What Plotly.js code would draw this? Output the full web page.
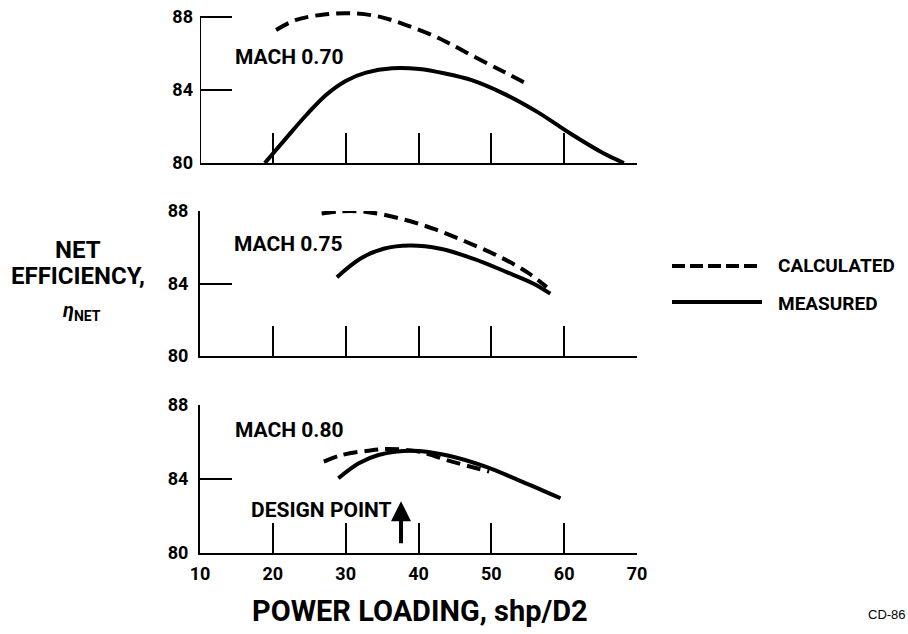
<!DOCTYPE html>
<html><head><meta charset="utf-8">
<script src="https://cdn.plot.ly/plotly-3.0.1.min.js"></script>
<style>html,body{margin:0;padding:0;background:#fff}#c{width:908px;height:634px}</style>
</head><body><div id="c"></div>
<script>
// Mach 0.70
const m70CalcX = [20.45, 23.2, 27.3, 31.0, 34.6, 38.3, 41.9, 44.2, 47.2, 51.7, 55.2];
const m70CalcY = [87.29, 87.84, 88.15, 88.2, 88.02, 87.56, 87.0, 86.56, 85.92, 85.0, 84.27];
const m70MeasX = [18.9, 21.8, 24.6, 27.3, 30.0, 32.8, 36.4, 40.1, 43.7, 47.2, 51.7, 56.3, 60.9, 65.4, 68.2];
const m70MeasY = [80.0, 81.35, 82.63, 83.73, 84.5, 84.95, 85.19, 85.15, 84.9, 84.55, 83.8, 82.8, 81.6, 80.53, 80.0];
// Mach 0.75
const m75CalcX = [26.7, 29.2, 32.9, 37.5, 42.0, 46.6, 51.2, 54.9, 57.6];
const m75CalcY = [87.86, 87.98, 87.95, 87.58, 87.03, 86.29, 85.46, 84.63, 83.8];
const m75MeasX = [28.8, 32.0, 35.2, 38.8, 43.0, 47.5, 52.1, 55.8, 58.1];
const m75MeasY = [84.35, 85.37, 85.92, 86.1, 85.92, 85.37, 84.63, 83.99, 83.44];
// Mach 0.80
const m80CalcX = [27.0, 29.5, 33.1, 35.9, 40.0, 44.6, 49.7];
const m80CalcY = [84.94, 85.3, 85.53, 85.62, 85.48, 84.94, 84.4];
const m80MeasX = [29.0, 31.8, 34.5, 39.1, 43.7, 49.2, 54.2, 59.5];
const m80MeasY = [84.04, 84.85, 85.3, 85.53, 85.3, 84.67, 83.86, 82.96];

const xTicks = [10, 20, 30, 40, 50, 60, 70];
const xTickText = ['10', '20', '30', '40', '50', '60', '70'];
const yTicks = [80, 84, 88];
const yTickText = ['80', '84', '88'];
const machLabels = ['MACH 0.70', 'MACH 0.75', 'MACH 0.80'];
const legendLabels = ['CALCULATED', 'MEASURED'];
const designX = 37.6;

const FONT = 'Roboto, sans-serif';
function f(size) { return {family: FONT, size: size, color: 'black', weight: 'bold'}; }
const dashPat = '14px,7px';
const W = 4;

function tr(x, y, xa, ya, dashed) {
  return {x: x, y: y, xaxis: xa, yaxis: ya, mode: 'lines', type: 'scatter', showlegend: false, hoverinfo: 'skip',
    line: {color: 'black', width: W, shape: 'spline', smoothing: 1, dash: dashed ? dashPat : 'solid'}};
}
const data = [
  tr(m70CalcX, m70CalcY, 'x', 'y', true), tr(m70MeasX, m70MeasY, 'x', 'y', false),
  tr(m75CalcX, m75CalcY, 'x2', 'y2', true), tr(m75MeasX, m75MeasY, 'x2', 'y2', false),
  tr(m80CalcX, m80CalcY, 'x3', 'y3', true), tr(m80MeasX, m80MeasY, 'x3', 'y3', false)
];

const xdom = [200/908, 637/908];
function xax(anchor, labels) {
  return {domain: xdom, range: [10, 70], anchor: anchor, showline: true, linecolor: 'black', linewidth: 2,
    ticks: 'inside', ticklen: 30, tickwidth: 2, tickcolor: 'black', tickvals: xTicks, ticktext: xTickText,
    showticklabels: labels, tickfont: f(18), ticklabelstandoff: 3,
    showgrid: false, zeroline: false, fixedrange: true};
}
function yax(anchor, dom, range, line) {
  return {domain: dom, range: range, anchor: anchor, showline: line, linecolor: 'black', linewidth: 2,
    ticks: 'inside', ticklen: 32, tickwidth: 2, tickcolor: 'black', tickvals: yTicks, ticktext: yTickText,
    tickfont: f(18), ticklabelstandoff: 6,
    showgrid: false, zeroline: false, fixedrange: true};
}
const H = 634;
const layout = {
  width: 908, height: 634, margin: {l: 0, r: 0, t: 0, b: 0}, paper_bgcolor: 'white', plot_bgcolor: 'rgba(0,0,0,0)',
  showlegend: false,
  xaxis: xax('y', false), yaxis: yax('x', [1-163/H, 1-9.7/H], [80, 88.4], false),
  xaxis2: xax('y2', false), yaxis2: yax('x2', [1-356/H, 1-211/H], [80, 88], true),
  xaxis3: xax('y3', true), yaxis3: yax('x3', [1-553/H, 1-405/H], [80, 88], true),
  shapes: [
    // top panel left axis line, ending at 88 as in the reference
    {type: 'line', xref: 'x', yref: 'y', x0: 10, x1: 10, y0: 80, y1: 88, line: {color: 'black', width: 2}},
    {type: 'line', xref: 'paper', yref: 'paper', x0: 672/908, x1: 757/908, y0: 1-266/H, y1: 1-266/H,
     line: {color: 'black', width: W, dash: '13px,5px'}},
    {type: 'line', xref: 'paper', yref: 'paper', x0: 672/908, x1: 762/908, y0: 1-302/H, y1: 1-302/H,
     line: {color: 'black', width: W}}
  ],
  annotations: [
    {xref: 'x', yref: 'y', x: 14.5, y: 85.8, text: machLabels[0], showarrow: false, xanchor: 'left', yanchor: 'middle', font: f(21)},
    {xref: 'x2', yref: 'y2', x: 14.4, y: 86.2, text: machLabels[1], showarrow: false, xanchor: 'left', yanchor: 'middle', font: f(21)},
    {xref: 'x3', yref: 'y3', x: 14.5, y: 86.65, text: machLabels[2], showarrow: false, xanchor: 'left', yanchor: 'middle', font: f(21)},
    {xref: 'x3', yref: 'y3', x: 36.6, y: 82.33, text: 'DESIGN POINT', showarrow: false, xanchor: 'right', yanchor: 'middle', font: f(21)},
    {xref: 'x3', yref: 'y3', x: designX, y: 82.8, ax: designX, ay: 80.45, axref: 'x3', ayref: 'y3', text: '',
     showarrow: true, arrowhead: 2, arrowsize: 1, arrowwidth: 4, arrowcolor: 'black'},
    {xref: 'paper', yref: 'paper', x: 420/908, y: 1-611/H, text: 'POWER LOADING, shp/D2', showarrow: false,
     xanchor: 'center', yanchor: 'middle', font: f(29)},
    {xref: 'paper', yref: 'paper', x: 78/908, y: 1-250/H, text: 'NET', showarrow: false,
     xanchor: 'center', yanchor: 'middle', font: f(24)},
    {xref: 'paper', yref: 'paper', x: 78/908, y: 1-276/H, text: 'EFFICIENCY,', showarrow: false,
     xanchor: 'center', yanchor: 'middle', font: f(24)},
    {xref: 'paper', yref: 'paper', x: 82/908, y: 1-311/H, text: '<i>η</i><sub>NET</sub>', showarrow: false,
     xanchor: 'center', yanchor: 'middle', font: f(20)},
    {xref: 'paper', yref: 'paper', x: 776/908, y: 1-265/H, text: legendLabels[0], showarrow: false,
     xanchor: 'left', yanchor: 'middle', font: f(19)},
    {xref: 'paper', yref: 'paper', x: 776/908, y: 1-303/H, text: legendLabels[1], showarrow: false,
     xanchor: 'left', yanchor: 'middle', font: f(19)},
    {xref: 'paper', yref: 'paper', x: 866/908, y: 1-614/H, text: 'CD-86', showarrow: false,
     xanchor: 'left', yanchor: 'middle', font: {family: 'Liberation Sans, Arial, sans-serif', size: 13, color: 'black'}}
  ]
};
Plotly.newPlot('c', data, layout, {staticPlot: true, displayModeBar: false});
</script></body></html>
